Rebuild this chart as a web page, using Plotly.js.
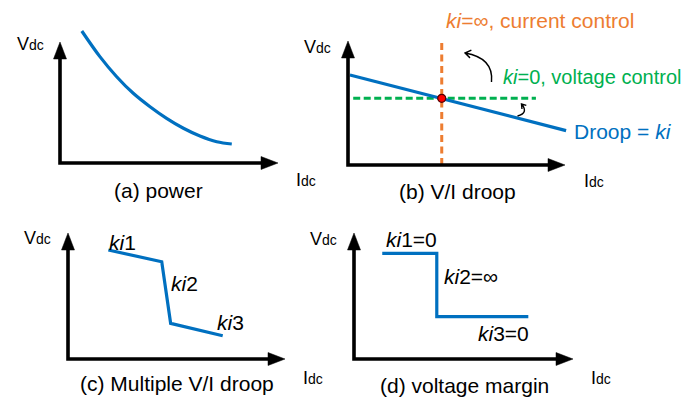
<!DOCTYPE html>
<html><head><meta charset="utf-8">
<script src="https://cdn.plot.ly/plotly-3.0.1.min.js"></script>
<style>html,body{margin:0;padding:0;background:#fff}</style>
</head><body><div id="chart" style="width:689px;height:399px"></div>
<script>
// ---- Data (units: 0..100 = length of each panel's axis arrow) ----
// (a) power
const powerI = [10.0, 18.3, 26.0, 33.6, 41.3, 48.9, 56.6, 64.2, 71.9, 78.8];
const powerV = [109.1, 87.9, 71.3, 57.6, 46.5, 36.9, 28.7, 22.3, 17.6, 15.7];
// (b) V/I droop
const droopI = [0.9, 100.5];
const droopV = [72.6, 27.7];
const currentCtrlI = [43.2, 43.2];
const currentCtrlV = [0, 100.8];
const voltageCtrlI = [2.4, 86.6];
const voltageCtrlV = [53.8, 53.8];
const opPointI = [43.2];
const opPointV = [53.8];
// (c) Multiple V/I droop
const multiI = [18.6, 43.2, 47.3, 71.3];
const multiV = [86.5, 77.2, 28.3, 18.5];
// (d) voltage margin
const marginI = [12.9, 37.8, 37.8, 79.6];
const marginV = [83.9, 83.9, 33.6, 33.6];

const captions = ['(a) power', '(b) V/I droop', '(c) Multiple V/I droop', '(d) voltage margin'];

// ---- Layout helpers ----
const W = 689, H = 399;
const FONT = 'Liberation Sans, Arial, sans-serif';
const BLUE = '#0070C0', ORANGE = '#ED7D31', GREEN = '#00B050';
// panel frames in pixels: origin (ox,oy), x-arrow tip xt, y-arrow tip yt
const panels = [
  {ox: 60,  oy: 163, xt: 278, yt: 42},
  {ox: 348, oy: 165, xt: 565, yt: 41},
  {ox: 68,  oy: 359, xt: 285, yt: 233},
  {ox: 354, oy: 359, xt: 573, yt: 233}
];
const layout = {
  width: W, height: H, margin: {l: 0, r: 0, t: 0, b: 0},
  paper_bgcolor: '#fff', plot_bgcolor: 'rgba(0,0,0,0)',
  showlegend: false, shapes: [], annotations: []
};
const HL = 17, HW = 6.5, PAD = 15;
panels.forEach((p, i) => {
  const s = i ? String(i + 1) : '';
  const xu = (p.xt - p.ox) / 100, yu = (p.oy - p.yt) / 100;
  p.xr = 'x' + s; p.yr = 'y' + s;
  const x0 = p.ox - PAD, x1 = p.xt + PAD, yT = p.yt - PAD, yB = p.oy + PAD;
  layout['xaxis' + s] = {domain: [x0 / W, x1 / W], range: [(x0 - p.ox) / xu, (x1 - p.ox) / xu],
    visible: false, fixedrange: true, anchor: 'y' + s};
  layout['yaxis' + s] = {domain: [1 - yB / H, 1 - yT / H], range: [(p.oy - yB) / yu, (p.oy - yT) / yu],
    visible: false, fixedrange: true, anchor: 'x' + s};
  const hx = HL / xu, hy = HL / yu, wx = HW / xu, wy = HW / yu;
  layout.shapes.push({type: 'path', xref: p.xr, yref: p.yr, layer: 'above',
    path: `M0,${100 - hy + 2 / yu} L0,0 L${100 - hx + 2 / xu},0`,
    line: {color: '#000', width: 3.6}});
  layout.shapes.push({type: 'path', xref: p.xr, yref: p.yr, layer: 'above',
    path: `M100,0 L${100 - hx},${wy} L${100 - hx},${-wy} Z`, fillcolor: '#000', line: {color: '#000', width: 0.5}});
  layout.shapes.push({type: 'path', xref: p.xr, yref: p.yr, layer: 'above',
    path: `M0,100 L${wx},${100 - hy} L${-wx},${100 - hy} Z`, fillcolor: '#000', line: {color: '#000', width: 0.5}});
});

function txt(text, x, y, opt) {
  opt = opt || {};
  layout.annotations.push({text: text, xref: 'paper', yref: 'paper', x: x / W, y: 1 - y / H,
    xanchor: opt.xa || 'left', yanchor: 'middle', showarrow: false,
    font: {family: FONT, size: opt.size || 21, color: opt.color || '#000'}});
}
const VDC = 'V<span style="font-size:14px">dc</span>';
const IDC = 'I<span style="font-size:14px">dc</span>';
// axis labels
txt(VDC, 15, 44, {size: 18}); txt(IDC, 294, 180, {size: 18});
txt(VDC, 302, 47, {size: 18}); txt(IDC, 582, 181, {size: 18});
txt(VDC, 22, 238, {size: 18}); txt(IDC, 301, 378, {size: 18});
txt(VDC, 308, 239, {size: 18}); txt(IDC, 589, 378, {size: 18});
// captions
txt(captions[0], 158, 190, {xa: 'center'});
txt(captions[1], 457, 191, {xa: 'center'});
txt(captions[2], 177, 383, {xa: 'center'});
txt(captions[3], 465, 385, {xa: 'center'});
// panel b labels
txt('<i>ki</i>=∞, current control', 444, 20, {color: ORANGE});
txt('<i>ki</i>=0, voltage control', 501, 77, {color: GREEN, size: 20});
txt('Droop = <i>ki</i>', 572, 131, {color: BLUE});
// panel c labels
txt('<i>ki</i>1', 107, 242); txt('<i>ki</i>2', 169, 283); txt('<i>ki</i>3', 215, 322);
// panel d labels
txt('<i>ki</i>1=0', 384, 239); txt('<i>ki</i>2=∞', 442, 276); txt('<i>ki</i>3=0', 476, 333);

// curved arrows in panel b (paper coordinates from pixels)
function P(x, y) { return (x / W).toFixed(5) + ',' + (1 - y / H).toFixed(5); }
function curvedArrow(sx, sy, cx, cy, ex, ey, len) {
  const dx = ex - cx, dy = ey - cy, n = Math.hypot(dx, dy), ux = dx / n, uy = dy / n;
  const a = 0.6, w = [];
  [a, -a].forEach(t => {
    const rx = ux * Math.cos(t) - uy * Math.sin(t), ry = ux * Math.sin(t) + uy * Math.cos(t);
    w.push([ex - len * rx, ey - len * ry]);
  });
  layout.shapes.push({type: 'path', xref: 'paper', yref: 'paper', layer: 'above',
    path: `M${P(sx, sy)} Q${P(cx, cy)} ${P(ex, ey)} M${P(w[0][0], w[0][1])} L${P(ex, ey)} L${P(w[1][0], w[1][1])}`,
    line: {color: '#000', width: 1.4}});
}
curvedArrow(491.5, 82, 494, 58, 465, 53, 7);
curvedArrow(517.5, 116, 529, 113, 521.5, 104, 5);

const traces = [
  {x: powerI, y: powerV, xaxis: 'x', yaxis: 'y', mode: 'lines', line: {color: BLUE, width: 3.2, shape: 'spline'}},
  {x: currentCtrlI, y: currentCtrlV, xaxis: 'x2', yaxis: 'y2', mode: 'lines', line: {color: ORANGE, width: 3, dash: '7px,4.5px'}},
  {x: voltageCtrlI, y: voltageCtrlV, xaxis: 'x2', yaxis: 'y2', mode: 'lines', line: {color: GREEN, width: 3, dash: '7px,3.5px'}},
  {x: droopI, y: droopV, xaxis: 'x2', yaxis: 'y2', mode: 'lines', line: {color: BLUE, width: 3.2}},
  {x: opPointI, y: opPointV, xaxis: 'x2', yaxis: 'y2', mode: 'markers', marker: {color: '#FF0000', size: 8, line: {color: '#500', width: 1.2}}},
  {x: multiI, y: multiV, xaxis: 'x3', yaxis: 'y3', mode: 'lines', line: {color: BLUE, width: 3.2}},
  {x: marginI, y: marginV, xaxis: 'x4', yaxis: 'y4', mode: 'lines', line: {color: BLUE, width: 3.2}}
];
traces.forEach(t => { t.hoverinfo = 'skip'; });
Plotly.newPlot('chart', traces, layout, {staticPlot: true, displayModeBar: false});
</script></body></html>
